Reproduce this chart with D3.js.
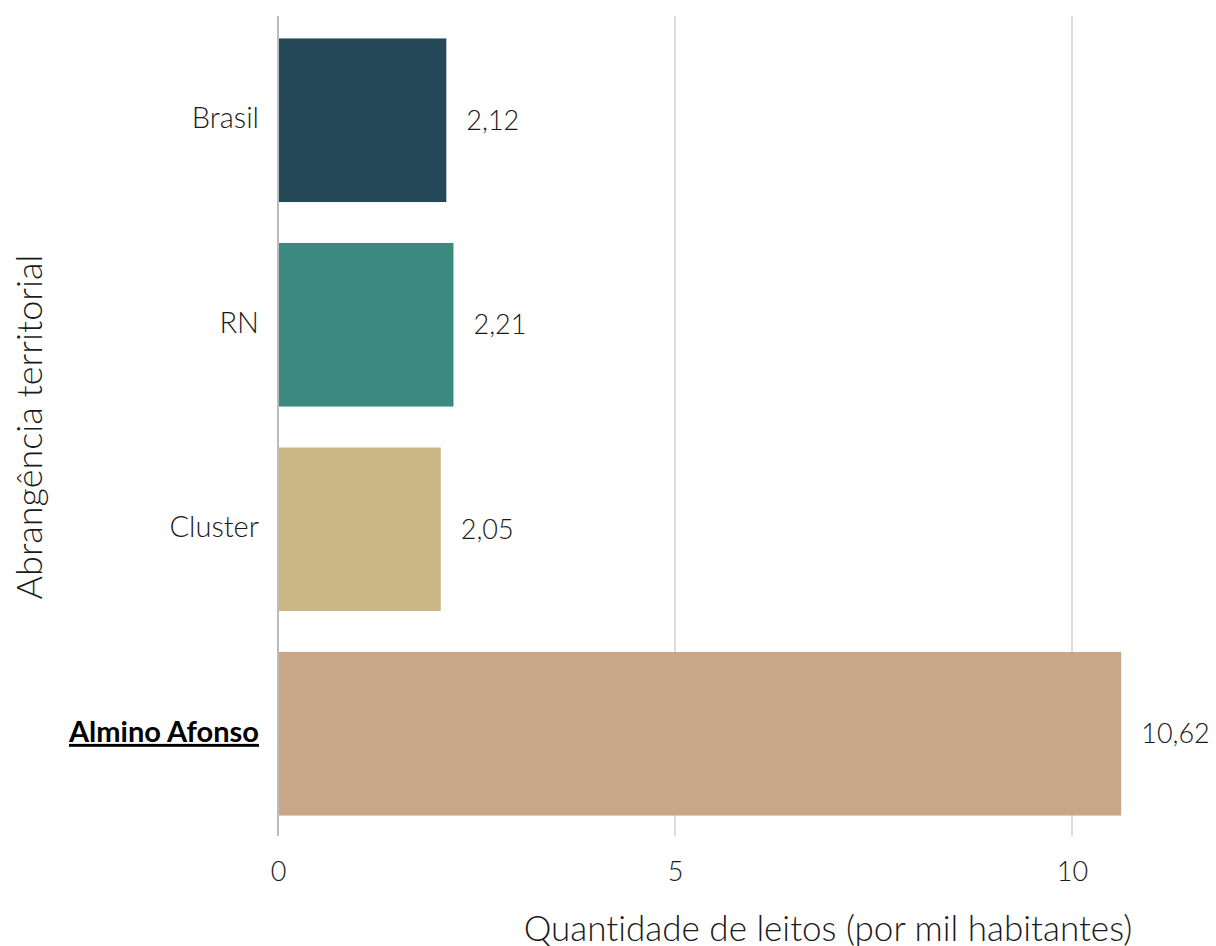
<!DOCTYPE html>
<html>
<head>
<meta charset="utf-8">
<script src="https://cdn.jsdelivr.net/npm/d3@7"></script>
<style>
  body { margin: 0; background: #fff; }
  text { font-family: Lato, sans-serif; font-variant-ligatures: none; }
</style>
</head>
<body>
<div id="chart"></div>
<script>
// Data
const categories = ["Brasil", "RN", "Cluster", "Almino Afonso"];
const values = [2.12, 2.21, 2.05, 10.62];
const colors = ["#254858", "#3b8a80", "#cbb886", "#caa689"];
const xTicks = [0, 5, 10];
const highlight = "Almino Afonso";

const data = categories.map((c, i) => ({ name: c, value: values[i], color: colors[i] }));

const fullWidth = 1216;
const fullHeight = 946;
const margin = { top: 18, right: 0, bottom: 110, left: 278 };

const svg = d3.select("#chart").append("svg")
  .attr("width", fullWidth)
  .attr("height", fullHeight);

// Scales
const x = d3.scaleLinear()
  .domain([0, 10])
  .range([margin.left, 1072]);

const y = d3.scaleBand()
  .domain(categories)
  .range([margin.top, fullHeight - margin.bottom])
  .paddingInner(0.2)
  .paddingOuter(0.1);

// Gridlines
svg.append("g")
  .selectAll("line")
  .data(xTicks.filter(t => t !== 0))
  .enter()
  .append("line")
  .attr("x1", d => x(d))
  .attr("x2", d => x(d))
  .attr("y1", 16)
  .attr("y2", 836)
  .attr("stroke", "#dcdcdc")
  .attr("stroke-width", 2);

// Bars
svg.append("g")
  .selectAll("rect")
  .data(data)
  .enter()
  .append("rect")
  .attr("x", x(0))
  .attr("y", d => y(d.name))
  .attr("width", d => x(d.value) - x(0))
  .attr("height", y.bandwidth())
  .attr("fill", d => d.color);

// Zero line
svg.append("line")
  .attr("x1", x(0))
  .attr("x2", x(0))
  .attr("y1", 16)
  .attr("y2", 836)
  .attr("stroke", "#bbbbbb")
  .attr("stroke-width", 2);

// Value labels
svg.append("g")
  .selectAll("text")
  .data(data)
  .enter()
  .append("text")
  .attr("x", d => x(d.value) + 20)
  .attr("y", d => y(d.name) + y.bandwidth() / 2)
  .attr("dy", "0.35em")
  .style("font-size", "27px")
  .style("font-weight", 300)
  .style("fill", "#1a1a1a")
  .text(d => d3.format(".2f")(d.value).replace(".", ","));

// Category labels
svg.append("g")
  .selectAll("text")
  .data(data)
  .enter()
  .append("text")
  .attr("x", 259)
  .attr("y", d => y(d.name) + y.bandwidth() / 2 - 2)
  .attr("dy", "0.35em")
  .attr("text-anchor", "end")
  .style("font-size", "29px")
  .style("font-weight", d => d.name === highlight ? 700 : 300)
  .style("text-decoration", d => d.name === highlight ? "underline" : "none")
  .style("fill", d => d.name === highlight ? "#000" : "#1a1a1a")
  .text(d => d.name);

// X tick labels
const xAxis = svg.append("g")
  .attr("transform", `translate(0, 836)`)
  .call(d3.axisBottom(x).tickValues(xTicks).tickSize(0).tickPadding(26).tickFormat(d3.format("d")));
xAxis.select(".domain").remove();
xAxis.selectAll("text")
  .style("font-family", "Lato, sans-serif")
  .style("font-size", "27px")
  .style("font-weight", 300)
  .style("fill", "#1a1a1a");

// X-axis title
svg.append("text")
  .attr("x", 828)
  .attr("y", 941)
  .attr("text-anchor", "middle")
  .style("font-size", "35px")
  .style("font-weight", 300)
  .style("fill", "#1a1a1a")
  .text("Quantidade de leitos (por mil habitantes)");

// Y-axis title
svg.append("text")
  .attr("transform", `translate(42, 427) rotate(-90)`)
  .attr("text-anchor", "middle")
  .style("font-size", "36px")
  .style("font-weight", 300)
  .style("fill", "#1a1a1a")
  .text("Abrangência territorial");
</script>
</body>
</html>
